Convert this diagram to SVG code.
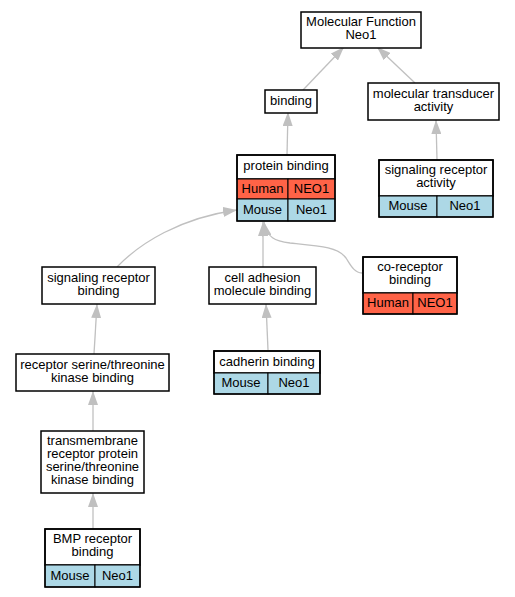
<svg xmlns="http://www.w3.org/2000/svg" width="515" height="597" viewBox="0 0 515 597">
<style>
text{font-family:"Liberation Sans",Arial,sans-serif;font-size:13px;fill:#000;text-anchor:middle}
.box{fill:#fff;stroke:#000;stroke-width:1.5}
.frame{fill:none;stroke:#000;stroke-width:1.5}
.cell{stroke:#000;stroke-width:1}
.h{fill:#ff6347}
.m{fill:#add8e6}
.e{fill:none;stroke:#c0c0c0;stroke-width:1.3;marker-end:url(#arr)}
</style>
<defs>
<marker id="arr" viewBox="0 0 14 10" refX="14" refY="5" markerWidth="14" markerHeight="10" markerUnits="userSpaceOnUse" orient="auto">
<path d="M0,0 L14,5 L0,10 Z" fill="#c0c0c0"/>
</marker>
</defs>
<g id="edges">
<path class="e" d="M303,90 L344,47"/>
<path class="e" d="M415,83 L377,47"/>
<path class="e" d="M287,155 L288,112"/>
<path class="e" d="M437,160 L436,120"/>
<path class="e" d="M117,267 C140,243 180,218 237,210"/>
<path class="e" d="M263,267 L263,222"/>
<path class="e" d="M362,273 C354,273 350,264 346,258 C338,247 320,246 290,243 C275,241 267,238 264,222"/>
<path class="e" d="M94,354 L97,304"/>
<path class="e" d="M268,350 L266,304"/>
<path class="e" d="M93,431 L93,391"/>
<path class="e" d="M93,529 L93,493"/>
</g>
<g id="mf">
<rect class="box" x="301" y="12" width="120" height="36"/>
<text x="361" y="26">Molecular Function<tspan x="361" dy="13">Neo1</tspan></text>
</g>
<g id="binding">
<rect class="box" x="265" y="90" width="52" height="23"/>
<text x="291" y="105">binding</text>
</g>
<g id="mta">
<rect class="box" x="368" y="83" width="131" height="37"/>
<text x="433.5" y="97.5">molecular transducer<tspan x="433.5" dy="13">activity</tspan></text>
</g>
<g id="pb">
<rect class="box" x="237" y="155" width="98" height="24"/>
<rect class="cell h" x="237" y="179" width="51" height="20"/>
<rect class="cell h" x="288" y="179" width="47" height="20"/>
<rect class="cell m" x="237" y="199" width="51" height="22"/>
<rect class="cell m" x="288" y="199" width="47" height="22"/>
<rect class="frame" x="237" y="155" width="98" height="66"/>
<text x="286" y="170">protein binding</text>
<text x="262.5" y="192.5">Human</text>
<text x="311.5" y="192.5">NEO1</text>
<text x="262.5" y="214">Mouse</text>
<text x="311.5" y="214">Neo1</text>
</g>
<g id="sra">
<rect class="box" x="379" y="160" width="114" height="36"/>
<rect class="cell m" x="379" y="196" width="58" height="21"/>
<rect class="cell m" x="437" y="196" width="56" height="21"/>
<rect class="frame" x="379" y="160" width="114" height="57"/>
<text x="436" y="174">signaling receptor<tspan x="436" dy="13">activity</tspan></text>
<text x="408" y="210">Mouse</text>
<text x="465" y="210">Neo1</text>
</g>
<g id="srb">
<rect class="box" x="42" y="267" width="113" height="37"/>
<text x="98.5" y="281.5">signaling receptor<tspan x="98.5" dy="13">binding</tspan></text>
</g>
<g id="camb">
<rect class="box" x="209" y="267" width="107" height="37"/>
<text x="262.5" y="281.5">cell adhesion<tspan x="262.5" dy="13">molecule binding</tspan></text>
</g>
<g id="crb">
<rect class="box" x="363" y="257" width="94" height="36"/>
<rect class="cell h" x="363" y="293" width="50" height="21"/>
<rect class="cell h" x="413" y="293" width="44" height="21"/>
<rect class="frame" x="363" y="257" width="94" height="57"/>
<text x="410" y="271">co-receptor<tspan x="410" dy="13">binding</tspan></text>
<text x="388" y="307">Human</text>
<text x="435" y="307">NEO1</text>
</g>
<g id="rstkb">
<rect class="box" x="16" y="354" width="153" height="37"/>
<text x="92.5" y="368.5">receptor serine/threonine<tspan x="92.5" dy="13">kinase binding</tspan></text>
</g>
<g id="cadherin">
<rect class="box" x="214" y="351" width="106" height="22"/>
<rect class="cell m" x="214" y="373" width="54" height="21"/>
<rect class="cell m" x="268" y="373" width="52" height="21"/>
<rect class="frame" x="214" y="351" width="106" height="43"/>
<text x="267" y="365.5">cadherin binding</text>
<text x="241" y="387">Mouse</text>
<text x="294" y="387">Neo1</text>
</g>
<g id="tm">
<rect class="box" x="41" y="431" width="103" height="62"/>
<text x="92.5" y="445">transmembrane<tspan x="92.5" dy="13">receptor protein</tspan><tspan x="92.5" dy="13">serine/threonine</tspan><tspan x="92.5" dy="13">kinase binding</tspan></text>
</g>
<g id="bmp">
<rect class="box" x="45" y="529" width="95" height="36"/>
<rect class="cell m" x="45" y="565" width="50" height="22"/>
<rect class="cell m" x="95" y="565" width="45" height="22"/>
<rect class="frame" x="45" y="529" width="95" height="58"/>
<text x="92.5" y="543">BMP receptor<tspan x="92.5" dy="13">binding</tspan></text>
<text x="70" y="580">Mouse</text>
<text x="117.5" y="580">Neo1</text>
</g>
</svg>
